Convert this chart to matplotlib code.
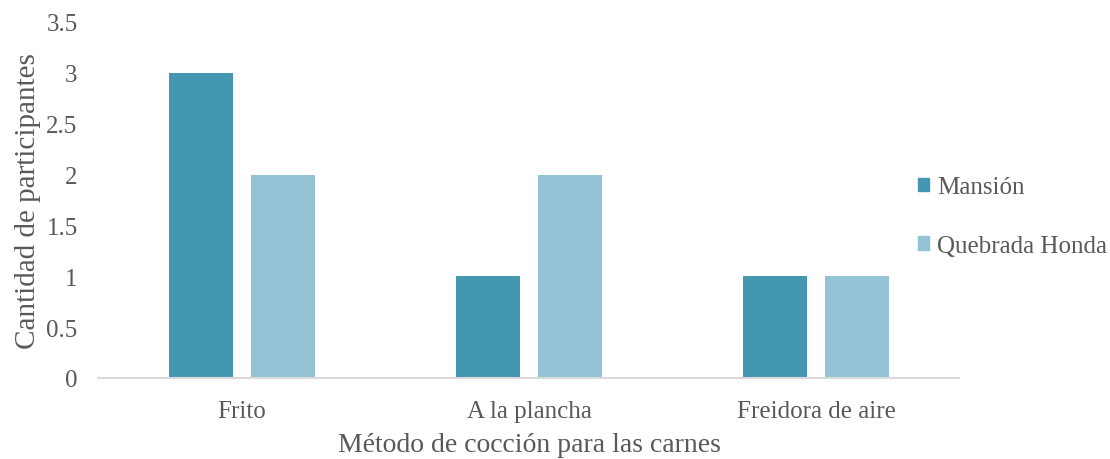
import matplotlib
matplotlib.use("Agg")
import matplotlib.pyplot as plt
import numpy as np
from matplotlib.patches import Patch

categories = ["Frito", "A la plancha", "Freidora de aire"]
series_names = ["Mansión", "Quebrada Honda"]
mansion = [3, 1, 1]
quebrada_honda = [2, 2, 1]
y_ticks = [0, 0.5, 1, 1.5, 2, 2.5, 3, 3.5]
y_tick_labels = ["0", "0.5", "1", "1.5", "2", "2.5", "3", "3.5"]

colors = ["#4397B0", "#93C3D4"]
text_color = "#595959"

plt.rcParams["font.family"] = ["Liberation Serif", "DejaVu Serif"]

fig = plt.figure(figsize=(11.1, 4.6), dpi=100)
ax = fig.add_axes([0.0887, 0.1761, 0.7757, 0.7739])

x = np.arange(len(categories))
width = 0.223
offset = 0.143
ax.bar(x - offset, mansion, width, color=colors[0], label=series_names[0])
ax.bar(x + offset, quebrada_honda, width, color=colors[1], label=series_names[1])

ax.set_xlim(-0.5, len(categories) - 0.5)
ax.set_ylim(0, 3.5)
ax.set_yticks(y_ticks)
ax.set_yticklabels(y_tick_labels)
ax.set_xticks(x)
ax.set_xticklabels(categories)

for s in ["top", "right", "left"]:
    ax.spines[s].set_visible(False)
ax.spines["bottom"].set_color("#D9D9D9")
ax.spines["bottom"].set_linewidth(1.5)
ax.tick_params(axis="both", length=0, labelsize=18, colors=text_color)
ax.tick_params(axis="y", pad=15)
ax.tick_params(axis="x", pad=16)

ax.set_ylabel("Cantidad de participantes", fontsize=21, color=text_color, labelpad=4)
ax.set_xlabel("Método de cocción para las carnes", fontsize=20, color=text_color, labelpad=7)

handles = [Patch(color=c) for c in colors]
fig.legend(handles, series_names, loc="center left", bbox_to_anchor=(0.827, 0.527),
           frameon=False, fontsize=18, labelcolor=text_color, borderpad=0,
           borderaxespad=0, handlelength=0.45, handleheight=0.45,
           handletextpad=0.3, labelspacing=1.45)

fig.savefig("out.png", dpi=100)
